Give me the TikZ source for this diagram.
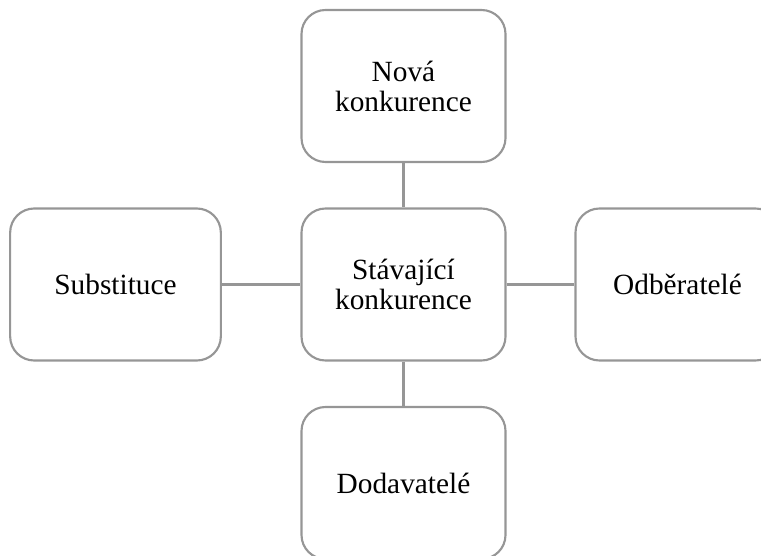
\documentclass[tikz,border=0pt]{standalone}
\usepackage{fontspec}
\setmainfont{Liberation Serif}

\definecolor{boxgray}{RGB}{150,150,150}

\tikzset{
  forcebox/.style={draw=boxgray, line width=1.6pt, rounded corners=18pt,
    minimum width=153pt, minimum height=114pt, align=center,
    font=\fontsize{22}{22.5}\selectfont},
  forcelink/.style={draw=boxgray, line width=1.6pt}
}

\begin{document}
\begin{tikzpicture}[x=0.75pt, y=-0.75pt]
\useasboundingbox (0,0) rectangle (761,556);
\clip (0,0) rectangle (761,556);

\node[forcebox] (stavajici) at (403.5,284.5) {Stávající\\konkurence};
\node[forcebox] (nova) at (403.5,86) {Nová\\konkurence};
\node[forcebox, minimum width=158pt] (substituce) at (115.5,284.5) {Substituce};
\node[forcebox] (odberatele) at (677.5,284.5) {Odběratelé};
\node[forcebox] (dodavatele) at (403.5,483) {Dodavatelé};

\draw[forcelink] (nova) -- (stavajici);
\draw[forcelink] (substituce) -- (stavajici);
\draw[forcelink] (stavajici) -- (odberatele);
\draw[forcelink] (stavajici) -- (dodavatele);
\end{tikzpicture}
\end{document}
